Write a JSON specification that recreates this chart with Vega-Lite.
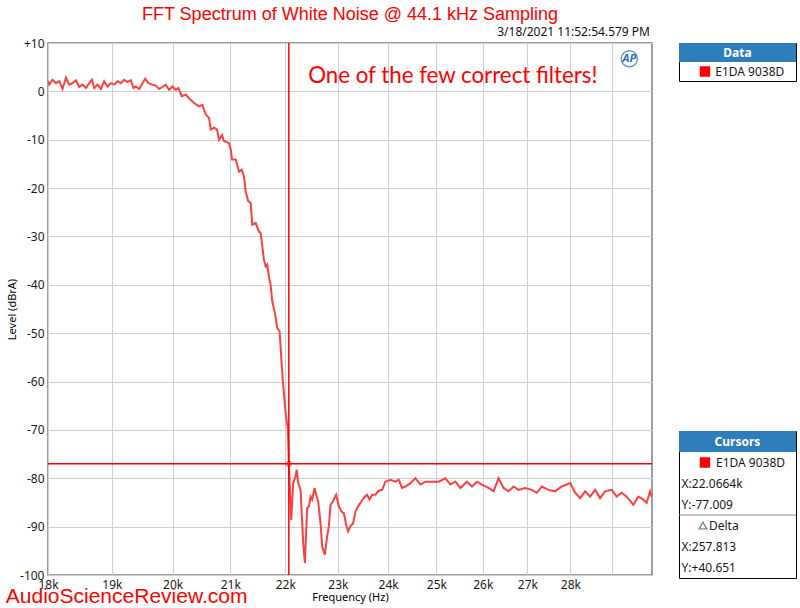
{
  "$schema": "https://vega.github.io/schema/vega-lite/v6.json",
  "background": "white",
  "padding": {"left": 5, "top": 5, "right": 2, "bottom": 0},
  "title": {"text": "AudioScienceReview.com", "orient": "bottom", "anchor": "start", "frame": "bounds", "color": "#ff0000", "font": "Liberation Sans", "fontSize": 21, "fontWeight": "normal", "offset": -17},
  "datasets": {
    "curve": [
      {"freq": 18000, "level": 2.1}, {"freq": 18020, "level": 1.4}, {"freq": 18070, "level": 2.4}, {"freq": 18122, "level": 1.7},
      {"freq": 18173, "level": 2.1}, {"freq": 18223, "level": 0.5}, {"freq": 18276, "level": 2.8}, {"freq": 18327, "level": 1.4},
      {"freq": 18378, "level": 1.7}, {"freq": 18431, "level": 2.3}, {"freq": 18482, "level": 0.9}, {"freq": 18534, "level": 1.4},
      {"freq": 18587, "level": 0.7}, {"freq": 18639, "level": 1.7}, {"freq": 18681, "level": 2.4}, {"freq": 18718, "level": 0.7},
      {"freq": 18770, "level": 1.4}, {"freq": 18824, "level": 0.5}, {"freq": 18876, "level": 2.1}, {"freq": 18929, "level": 1.0},
      {"freq": 18983, "level": 1.7}, {"freq": 19036, "level": 1.4}, {"freq": 19090, "level": 2.1}, {"freq": 19144, "level": 1.7},
      {"freq": 19198, "level": 2.4}, {"freq": 19251, "level": 1.9}, {"freq": 19307, "level": 2.3}, {"freq": 19349, "level": 0.7},
      {"freq": 19388, "level": 1.0}, {"freq": 19443, "level": 0.5}, {"freq": 19497, "level": 1.7}, {"freq": 19541, "level": 2.6},
      {"freq": 19596, "level": 1.7}, {"freq": 19662, "level": 1.4}, {"freq": 19719, "level": 1.2}, {"freq": 19774, "level": 0.5},
      {"freq": 19829, "level": 0.9}, {"freq": 19886, "level": 1.4}, {"freq": 19941, "level": 0.3}, {"freq": 19997, "level": 1.0},
      {"freq": 20054, "level": 0.3}, {"freq": 20099, "level": 0.7}, {"freq": 20156, "level": -1.0}, {"freq": 20225, "level": -0.7},
      {"freq": 20293, "level": -1.6}, {"freq": 20367, "level": -2.4}, {"freq": 20453, "level": -3.1}, {"freq": 20510, "level": -2.8},
      {"freq": 20569, "level": -4.8}, {"freq": 20626, "level": -5.5}, {"freq": 20656, "level": -7.9}, {"freq": 20714, "level": -7.5},
      {"freq": 20766, "level": -7.9}, {"freq": 20801, "level": -10.0}, {"freq": 20854, "level": -9.0}, {"freq": 20889, "level": -10.3},
      {"freq": 20942, "level": -10.5}, {"freq": 20978, "level": -10.7}, {"freq": 21008, "level": -12.0}, {"freq": 21031, "level": -14.1},
      {"freq": 21097, "level": -14.1}, {"freq": 21156, "level": -16.6}, {"freq": 21204, "level": -16.2}, {"freq": 21245, "level": -17.6},
      {"freq": 21276, "level": -20.7}, {"freq": 21322, "level": -22.7}, {"freq": 21366, "level": -23.1}, {"freq": 21394, "level": -27.6},
      {"freq": 21456, "level": -27.2}, {"freq": 21516, "level": -29.0}, {"freq": 21547, "level": -29.3}, {"freq": 21607, "level": -34.8},
      {"freq": 21638, "level": -36.2}, {"freq": 21667, "level": -35.8}, {"freq": 21698, "level": -38.3}, {"freq": 21729, "level": -40.0},
      {"freq": 21759, "level": -43.4}, {"freq": 21808, "level": -45.8}, {"freq": 21851, "level": -48.9}, {"freq": 21895, "level": -49.6},
      {"freq": 21932, "level": -56.2}, {"freq": 21956, "level": -60.0}, {"freq": 21975, "level": -62.4}, {"freq": 22006, "level": -66.5},
      {"freq": 22049, "level": -70.0}, {"freq": 22066, "level": -77.0}, {"freq": 22111, "level": -88.6}, {"freq": 22148, "level": -81.0},
      {"freq": 22193, "level": -79.6}, {"freq": 22212, "level": -78.2}, {"freq": 22242, "level": -81.0}, {"freq": 22287, "level": -82.4},
      {"freq": 22336, "level": -93.4}, {"freq": 22368, "level": -97.5}, {"freq": 22411, "level": -86.2}, {"freq": 22444, "level": -85.8},
      {"freq": 22476, "level": -83.8}, {"freq": 22506, "level": -84.4}, {"freq": 22552, "level": -82.0}, {"freq": 22582, "level": -83.4},
      {"freq": 22621, "level": -84.8}, {"freq": 22666, "level": -89.3}, {"freq": 22697, "level": -94.1}, {"freq": 22749, "level": -95.8},
      {"freq": 22793, "level": -92.0}, {"freq": 22826, "level": -89.9}, {"freq": 22859, "level": -85.5}, {"freq": 22903, "level": -84.8},
      {"freq": 22967, "level": -83.4}, {"freq": 23019, "level": -85.8}, {"freq": 23072, "level": -86.9}, {"freq": 23117, "level": -87.2},
      {"freq": 23162, "level": -89.6}, {"freq": 23201, "level": -91.0}, {"freq": 23248, "level": -89.9}, {"freq": 23299, "level": -89.3},
      {"freq": 23346, "level": -86.9}, {"freq": 23398, "level": -85.8}, {"freq": 23445, "level": -85.1}, {"freq": 23491, "level": -84.4},
      {"freq": 23530, "level": -83.8}, {"freq": 23576, "level": -83.4}, {"freq": 23624, "level": -84.4}, {"freq": 23676, "level": -83.4},
      {"freq": 23744, "level": -83.4}, {"freq": 23796, "level": -82.7}, {"freq": 23844, "level": -82.4}, {"freq": 23877, "level": -82.4},
      {"freq": 23945, "level": -80.7}, {"freq": 24047, "level": -80.3}, {"freq": 24148, "level": -80.7}, {"freq": 24216, "level": -80.3},
      {"freq": 24283, "level": -82.0}, {"freq": 24353, "level": -81.7}, {"freq": 24456, "level": -81.0}, {"freq": 24560, "level": -80.0},
      {"freq": 24664, "level": -81.3}, {"freq": 24768, "level": -80.7}, {"freq": 24906, "level": -80.7}, {"freq": 25048, "level": -80.7},
      {"freq": 25190, "level": -80.0}, {"freq": 25296, "level": -81.3}, {"freq": 25403, "level": -80.7}, {"freq": 25511, "level": -82.0},
      {"freq": 25653, "level": -80.7}, {"freq": 25762, "level": -81.7}, {"freq": 25871, "level": -80.7}, {"freq": 25980, "level": -81.3},
      {"freq": 26128, "level": -82.0}, {"freq": 26238, "level": -82.7}, {"freq": 26349, "level": -80.0}, {"freq": 26461, "level": -82.0},
      {"freq": 26573, "level": -82.7}, {"freq": 26685, "level": -81.7}, {"freq": 26798, "level": -82.4}, {"freq": 26950, "level": -82.0},
      {"freq": 27101, "level": -82.4}, {"freq": 27215, "level": -83.0}, {"freq": 27330, "level": -81.7}, {"freq": 27485, "level": -82.4},
      {"freq": 27641, "level": -82.7}, {"freq": 27796, "level": -81.7}, {"freq": 27994, "level": -81.0}, {"freq": 28112, "level": -83.0},
      {"freq": 28231, "level": -84.1}, {"freq": 28351, "level": -82.7}, {"freq": 28470, "level": -83.8}, {"freq": 28591, "level": -82.4},
      {"freq": 28712, "level": -84.1}, {"freq": 28833, "level": -82.7}, {"freq": 28995, "level": -82.4}, {"freq": 29117, "level": -83.8},
      {"freq": 29240, "level": -83.0}, {"freq": 29364, "level": -83.8}, {"freq": 29531, "level": -85.5}, {"freq": 29656, "level": -83.8},
      {"freq": 29781, "level": -84.4}, {"freq": 29864, "level": -85.1}, {"freq": 29950, "level": -82.7}, {"freq": 29990, "level": -83.8}
    ],
    "cursor": [{"freq": 22066.4, "level": -77.009}],
    "stamp": [{"freq": 30000, "level": 10, "label": "3/18/2021 11:52:54.579 PM"}],
    "note": [{"freq": 22430, "level": 1.8, "label": "One of the few correct filters!"}],
    "logo": [{"freq": 29431, "level": 6.75, "label": "AP"}],
    "box1": [{"line": "header", "text": "Data"}, {"line": "series", "text": "E1DA 9038D"}],
    "box2": [
      {"line": "header", "text": "Cursors"}, {"line": "series", "text": "E1DA 9038D"},
      {"line": "cx", "text": "X:22.0664k"}, {"line": "cy", "text": "Y:-77.009"},
      {"line": "delta", "text": "Delta"}, {"line": "dx", "text": "X:257.813"}, {"line": "dy", "text": "Y:+40.651"}
    ]
  },
  "spacing": 24,
  "hconcat": [
    {
      "width": 604,
      "height": 532,
      "title": {"text": "FFT Spectrum of White Noise @ 44.1 kHz Sampling", "color": "#ff0000", "font": "Liberation Sans", "fontSize": 18, "fontWeight": "normal", "anchor": "middle", "frame": "group", "offset": 2},
      "encoding": {
        "x": {"field": "freq", "type": "quantitative",
              "scale": {"type": "log", "domain": [18000, 30000], "nice": false},
              "axis": {"title": "Frequency (Hz)", "values": [18000, 19000, 20000, 21000, 22000, 23000, 24000, 25000, 26000, 27000, 28000, 29000],
                       "labelExpr": "datum.value < 29000 ? (datum.value / 1000) + 'k' : ''", "labelPadding": 4, "titlePadding": 1, "labelFlush": false, "labelOverlap": false}},
        "y": {"field": "level", "type": "quantitative",
              "scale": {"domain": [-100, 10], "nice": false, "zero": false},
              "axis": {"title": "Level (dBrA)", "values": [-100, -90, -80, -70, -60, -50, -40, -30, -20, -10, 0, 10],
                       "labelExpr": "datum.value > 0 ? '+' + datum.value : '' + datum.value", "labelPadding": 4, "titlePadding": 2, "labelFlush": false, "labelOverlap": false}}
      },
      "layer": [
        {"data": {"name": "curve"}, "mark": {"type": "line", "color": "#ff4040", "strokeWidth": 2, "clip": true}},
        {"data": {"name": "cursor"}, "mark": {"type": "rule", "color": "#ff0000", "strokeWidth": 1.5},
         "encoding": {"y": {"datum": -100}, "y2": {"datum": 10}}},
        {"data": {"name": "cursor"}, "mark": {"type": "rule", "color": "#ff0000", "strokeWidth": 1.5},
         "encoding": {"x": {"datum": 18000}, "x2": {"datum": 30000}}},
        {"data": {"name": "cursor"}, "mark": {"type": "point", "shape": "circle", "filled": false, "color": "#ff0000", "size": 28, "strokeWidth": 1}},
        {"data": {"name": "note"}, "mark": {"type": "text", "align": "left", "baseline": "alphabetic", "font": "Lato", "fontSize": 22.3, "color": "#ff0000"},
         "encoding": {"text": {"field": "label"}}},
        {"data": {"name": "stamp"}, "mark": {"type": "text", "align": "right", "baseline": "middle", "dx": -2, "dy": -11, "font": "Noto Sans", "fontSize": 12, "color": "#111111"},
         "encoding": {"text": {"field": "label"}}},
        {"data": {"name": "logo"}, "mark": {"type": "point", "shape": "circle", "filled": false, "color": "#2a6db5", "size": 260, "strokeWidth": 1.5}},
        {"data": {"name": "logo"}, "mark": {"type": "text", "align": "center", "baseline": "middle", "font": "Noto Sans", "fontSize": 11, "fontStyle": "italic", "fontWeight": "bold", "color": "#2a6db5"},
         "encoding": {"text": {"field": "label"}}}
      ]
    },
    {
      "spacing": 348,
      "vconcat": [
        {
          "width": 117,
          "height": 38,
          "view": {"stroke": "#000000", "strokeWidth": 1},
          "data": {"name": "box1"},
          "encoding": {
            "y": {"field": "line", "type": "nominal", "scale": {"domain": ["header", "series"], "paddingInner": 0, "paddingOuter": 0}, "axis": null}
          },
          "layer": [
            {"transform": [{"filter": "datum.line == 'header'"}], "mark": {"type": "rect", "color": "#2e7ebb"}},
            {"transform": [{"filter": "datum.line == 'header'"}], "mark": {"type": "text", "color": "white", "fontWeight": "bold", "font": "Noto Sans", "fontSize": 12, "baseline": "middle"},
             "encoding": {"x": {"datum": 0.5, "type": "quantitative", "scale": {"domain": [0, 1]}, "axis": null}, "text": {"field": "text"}}},
            {"transform": [{"filter": "datum.line == 'series'"}], "mark": {"type": "point", "shape": "square", "filled": true, "color": "#ff0000", "size": 110, "opacity": 1},
             "encoding": {"x": {"datum": 0.222, "type": "quantitative", "scale": {"domain": [0, 1]}, "axis": null}}},
            {"transform": [{"filter": "datum.line == 'series'"}], "mark": {"type": "text", "align": "left", "baseline": "middle", "font": "Noto Sans", "fontSize": 12, "color": "#1a1a1a"},
             "encoding": {"x": {"datum": 0.31, "type": "quantitative", "scale": {"domain": [0, 1]}, "axis": null}, "text": {"field": "text"}}}
          ]
        },
        {
          "width": 117,
          "height": 147,
          "view": {"stroke": "#000000", "strokeWidth": 1},
          "data": {"name": "box2"},
          "encoding": {
            "y": {"field": "line", "type": "nominal", "scale": {"domain": ["header", "series", "cx", "cy", "delta", "dx", "dy"], "paddingInner": 0, "paddingOuter": 0}, "axis": null}
          },
          "layer": [
            {"transform": [{"filter": "datum.line == 'header'"}], "mark": {"type": "rect", "color": "#2e7ebb"}},
            {"transform": [{"filter": "datum.line == 'header'"}], "mark": {"type": "text", "color": "white", "fontWeight": "bold", "font": "Noto Sans", "fontSize": 12, "baseline": "middle"},
             "encoding": {"x": {"datum": 0.5, "type": "quantitative", "scale": {"domain": [0, 1]}, "axis": null}, "text": {"field": "text"}}},
            {"transform": [{"filter": "datum.line == 'series'"}], "mark": {"type": "point", "shape": "square", "filled": true, "color": "#ff0000", "size": 110, "opacity": 1},
             "encoding": {"x": {"datum": 0.222, "type": "quantitative", "scale": {"domain": [0, 1]}, "axis": null}}},
            {"transform": [{"filter": "datum.line == 'series'"}], "mark": {"type": "text", "align": "left", "baseline": "middle", "font": "Noto Sans", "fontSize": 12, "color": "#1a1a1a"},
             "encoding": {"x": {"datum": 0.316, "type": "quantitative", "scale": {"domain": [0, 1]}, "axis": null}, "text": {"field": "text"}}},
            {"transform": [{"filter": "datum.line == 'cx' || datum.line == 'cy' || datum.line == 'dx' || datum.line == 'dy'"}], "mark": {"type": "text", "align": "left", "baseline": "middle", "font": "Noto Sans", "fontSize": 12, "color": "#1a1a1a"},
             "encoding": {"x": {"datum": 0.022, "type": "quantitative", "scale": {"domain": [0, 1]}, "axis": null}, "text": {"field": "text"}}},
            {"transform": [{"filter": "datum.line == 'delta'"}], "mark": {"type": "point", "shape": "triangle-up", "filled": false, "color": "#2b5f8f", "size": 60, "strokeWidth": 1.3},
             "encoding": {"x": {"datum": 0.205, "type": "quantitative", "scale": {"domain": [0, 1]}, "axis": null}}},
            {"transform": [{"filter": "datum.line == 'delta'"}], "mark": {"type": "text", "align": "left", "baseline": "middle", "font": "Noto Sans", "fontSize": 12, "color": "#1a1a1a"},
             "encoding": {"x": {"datum": 0.256, "type": "quantitative", "scale": {"domain": [0, 1]}, "axis": null}, "text": {"field": "text"}}},
            {"transform": [{"filter": "datum.line == 'cy'"}], "mark": {"type": "rule", "color": "#8a8a8a", "strokeWidth": 1},
             "encoding": {"y": {"field": "line", "type": "nominal", "bandPosition": 1}}}
          ]
        }
      ]
    }
  ],
  "config": {
    "view": {"stroke": "#7f7f7f", "strokeWidth": 1.5},
    "axis": {"gridColor": "#cfcfcf", "gridWidth": 1, "domain": false, "ticks": false,
             "labelFont": "Noto Sans", "labelFontSize": 12, "labelColor": "#1a1a1a",
             "titleFont": "Noto Sans", "titleFontSize": 11, "titleFontWeight": "normal", "titleColor": "#000000"}
  }
}
